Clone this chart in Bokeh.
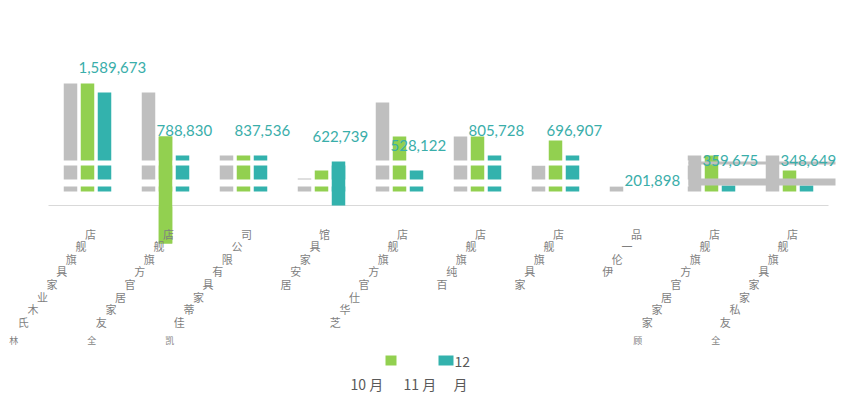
from bokeh.plotting import figure
from bokeh.models import ColumnDataSource, Range1d, BoxAnnotation, Label
from bokeh.core.properties import value
from bokeh.embed import file_html
from bokeh.resources import INLINE

# ---------------- data ----------------
stores = ["林氏木业家具旗舰店", "全友家居官方旗舰店", "凯佳蒂家具有限公司", "居安家具馆",
          "芝华仕官方旗舰店", "百纯旗舰店", "家具旗舰店", "伊伦一品",
          "顾家家居官方旗舰店", "全友私家家具旗舰店"]
months = ["10月", "11月", "12月"]
oct_sales = [1716000, 1590000, 703000, 380000, 1449000, 971000, 563000, 271000, 703000, 703000]
nov_sales = [1716000, 971000, 703000, 492000, 971000, 971000, 914000, 0, 703000, 492000]
nov_low = [0, -535000, 0, 0, 0, 0, 0, 0, 0, 0]
dec_sales = [1589673, 703000, 703000, 619000, 492000, 703000, 703000, 0, 283000, 283000]
dec_labels = [1589673, 788830, 837536, 622739, 528122, 805728, 696907, 201898, 359675, 348649]

colors = ["#bfbfbf", "#92d050", "#33b2ad"]
GROUP_PX = 78.0          # pixels per category
F = 14068.0              # value units per pixel
BASE_X, BASE_Y = 87.0, 205.0   # page position of first category centre / baseline
ORIGIN = 0               # page position of the canvas corner

def X(px):
    return (px - BASE_X) / GROUP_PX

def Y(py):
    return (BASE_Y - py) * F

W, H = 852, 394
p = figure(width=W, height=H, output_backend="svg", toolbar_location=None,
           x_range=Range1d(X(ORIGIN), X(ORIGIN + W)), y_range=Range1d(Y(ORIGIN + H), Y(ORIGIN)),
           min_border=0, background_fill_color="white", border_fill_color="white")
p.axis.visible = False
p.grid.visible = False
p.outline_line_color = None

n = len(stores)
idx = list(range(n))
dodge = 17.0 / GROUP_PX
bw = 13.5 / GROUP_PX
series = [(oct_sales, [0] * n), (nov_sales, nov_low), (dec_sales, [0] * n)]
for s, (vals, lows) in enumerate(series):
    src = ColumnDataSource(dict(x=[i + (s - 1) * dodge for i in idx], top=vals, bottom=lows))
    p.vbar(x="x", top="top", bottom="bottom", width=bw, source=src,
           fill_color=colors[s], line_color=None)

# gaps in the bars (white) and grey strips on the right
gray_from = X(688)
gray_to = X(835)
p.add_layout(BoxAnnotation(right=gray_from, bottom=40 * F, top=45 * F,
                           fill_color="white", fill_alpha=1, line_color=None))
p.add_layout(BoxAnnotation(left=gray_from, right=gray_to, bottom=41 * F, top=44 * F,
                           fill_color=colors[0], fill_alpha=1, line_color=None))
p.add_layout(BoxAnnotation(right=gray_from, bottom=19 * F, top=26 * F,
                           fill_color="white", fill_alpha=1, line_color=None))
p.add_layout(BoxAnnotation(left=gray_from, right=gray_to, bottom=20 * F, top=27 * F,
                           fill_color=colors[0], fill_alpha=1, line_color=None))
p.add_layout(BoxAnnotation(bottom=-1 * F, top=14 * F,
                           fill_color="white", fill_alpha=1, line_color=None))

# bars that pass through the gaps
special = [(1, 1), (3, 2)]
sx, stop, sbot, scol = [], [], [], []
for g, s in special:
    vals, lows = series[s]
    sx.append(g + (s - 1) * dodge)
    stop.append(vals[g])
    sbot.append(lows[g])
    scol.append(colors[s])

# axis line
axl = p.segment(x0=[-0.5], y0=[0], x1=[n - 0.5], y1=[0], line_color="#d9d9d9", line_width=1)
axl.level = "overlay"

r = p.vbar(x=sx, top=stop, bottom=sbot, width=bw, fill_color=scol, line_color=None)
r.level = "overlay"

# value labels
t = p.text(x=idx, y=dec_sales, text=[f"{v:,}" for v in dec_labels],
           x_offset=-9, y_offset=-25, text_align="left", text_baseline="middle",
           text_font=value("Lato"), text_font_size="15px", text_color="#3aaeaa")
t.level = "overlay"

# category labels, one character at a time on a diagonal
cx, cxo, cyo, ch, csz = [], [], [], [], []
for i, name in enumerate(stores):
    L = len(name)
    for j, c in enumerate(name):
        k = L - 1 - j
        cx.append(i)
        cxo.append(3 - 9.6 * k)
        cyo.append(28 + 12.6 * k + (6 if k >= 8 else 0))
        ch.append(c)
        csz.append("9px" if k >= 8 else "11px")
ct = p.text(x=cx, y=[0] * len(cx), text=ch, x_offset=cxo, y_offset=cyo,
            text_align="center", text_baseline="middle",
            text_font=value("Noto Sans CJK SC"), text_font_size=csz, text_color="#7f7f7f")
ct.level = "overlay"

# legend (garbled layout as in the reference)
p.add_layout(BoxAnnotation(left=X(385), right=X(396), top=Y(355), bottom=Y(365),
                           fill_color=colors[1], fill_alpha=1, line_color=None))
p.add_layout(BoxAnnotation(left=X(438), right=X(453), top=Y(355), bottom=Y(365),
                           fill_color=colors[2], fill_alpha=1, line_color=None))
for txt, lx, ly in [("12", 454, 361), ("10 月", 350, 383), ("11 月", 403, 383), ("月", 453, 383)]:
    p.add_layout(Label(x=X(lx), y=Y(ly), text=txt, text_align="left", text_baseline="middle",
                       text_font="Noto Sans CJK SC", text_font_size="14px", text_color="#595959"))

open("out.html", "w").write(file_html(p, INLINE))
